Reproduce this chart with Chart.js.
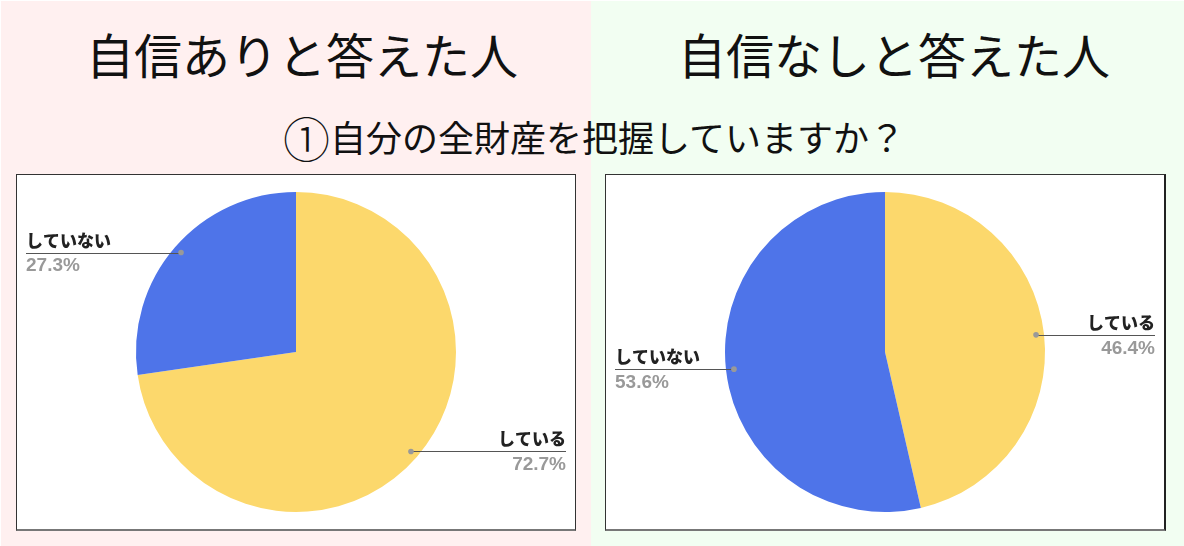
<!DOCTYPE html>
<html><head><meta charset="utf-8">
<script src="https://cdn.jsdelivr.net/npm/chart.js@4/dist/chart.umd.min.js"></script>
<style>
html,body{margin:0;padding:0;background:#fff;}
body{width:1184px;height:546px;position:relative;overflow:hidden;font-family:"Noto Sans CJK JP",sans-serif;}
.bg{position:absolute;top:1px;bottom:0;}
#bgL{left:1px;width:590px;background:#fff0f0;}
#bgR{left:591px;right:0;background:#f2fef2;}
.title{position:absolute;top:29px;height:48px;line-height:48px;font-size:48px;color:#111;text-align:center;white-space:nowrap;}
#tL{left:39px;width:526px;}
#tR{left:630px;width:528px;}
#sub{position:absolute;left:0;width:1188px;top:118px;height:36px;line-height:36px;font-size:36px;color:#111;text-align:center;white-space:nowrap;}
#sub .n{font-size:47px;font-weight:300;display:inline-block;vertical-align:top;line-height:36px;position:relative;top:1px;}
.box{position:absolute;top:174px;width:558px;height:354px;background:#fff;border:1px solid #333;border-bottom:2px solid #777;}
#boxL{left:16px;}
#boxR{left:605px;border-right:2px solid #222;}
.box canvas{display:block;}
</style></head>
<body>
<div class="bg" id="bgL"></div><div class="bg" id="bgR"></div>
<div class="title" id="tL">自信ありと答えた人</div>
<div class="title" id="tR">自信なしと答えた人</div>
<div id="sub"><span class="n">①</span>自分の全財産を把握していますか？</div>
<div class="box" id="boxL"><canvas id="cL" width="558" height="354"></canvas></div>
<div class="box" id="boxR"><canvas id="cR" width="558" height="354"></canvas></div>
<script>
const categories = ["している", "していない"];
const confidentValues = [72.7, 27.3];
const notConfidentValues = [46.4, 53.6];
const sliceColors = ["#fcd86c", "#4e74e9"];

const leaderLabels = {
  id: "leaderLabels",
  afterDatasetsDraw(chart) {
    const ctx = chart.ctx;
    const meta = chart.getDatasetMeta(0);
    const ds = chart.data.datasets[0];
    const W = chart.width;
    meta.data.forEach((arc, i) => {
      const p = arc.getProps(["x","y","startAngle","endAngle","outerRadius"], true);
      const mid = (p.startAngle + p.endAngle) / 2;
      const r = p.outerRadius * 0.95;
      const dx = p.x + Math.cos(mid) * r;
      const dy = p.y + Math.sin(mid) * r;
      const right = Math.cos(mid) > 0;
      const ex = right ? W - 9 : 9;
      ctx.save();
      ctx.strokeStyle = "#555";
      ctx.lineWidth = 1;
      ctx.beginPath();
      ctx.moveTo(dx, Math.round(dy) + 0.5);
      ctx.lineTo(ex, Math.round(dy) + 0.5);
      ctx.stroke();
      ctx.fillStyle = "#999";
      ctx.beginPath();
      ctx.arc(dx, dy, 2.8, 0, Math.PI * 2);
      ctx.fill();
      ctx.textAlign = right ? "right" : "left";
      ctx.fillStyle = "#222";
      ctx.font = '900 17px "Noto Sans CJK JP", sans-serif';
      ctx.textBaseline = "alphabetic";
      ctx.fillText(chart.data.labels[i], ex, dy - 6);
      ctx.fillStyle = "#999";
      ctx.font = 'bold 19px "Liberation Sans", Arial, sans-serif';
      ctx.textBaseline = "top";
      ctx.fillText(ds.data[i].toFixed(1) + "%", ex, dy + 4);
      ctx.restore();
    });
  }
};

function makePie(id, values) {
  new Chart(document.getElementById(id), {
    type: "pie",
    data: {
      labels: categories,
      datasets: [{ data: values, backgroundColor: sliceColors, borderWidth: 0 }]
    },
    options: {
      responsive: false,
      animation: false,
      layout: { padding: 17 },
      plugins: { legend: { display: false }, tooltip: { enabled: false } }
    },
    plugins: [leaderLabels]
  });
}
makePie("cL", confidentValues);
makePie("cR", notConfidentValues);
</script>
</body></html>
